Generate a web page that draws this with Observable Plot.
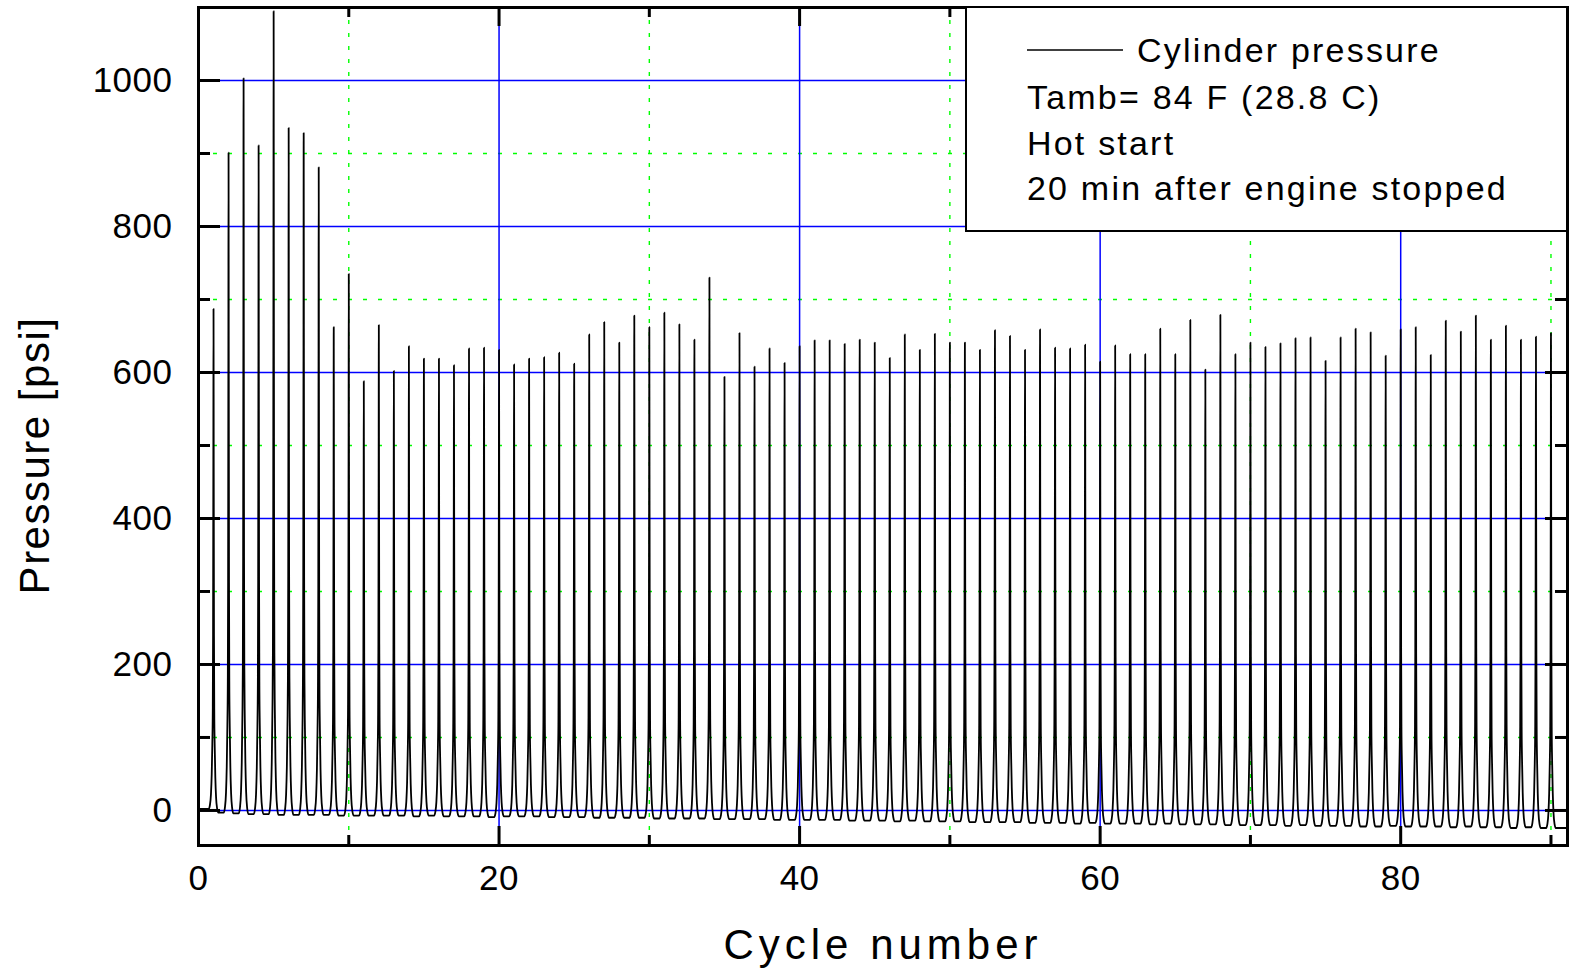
<!DOCTYPE html>
<html>
<head>
<meta charset="utf-8">
<script src="https://cdn.jsdelivr.net/npm/d3@7"></script>
<script src="https://cdn.jsdelivr.net/npm/@observablehq/plot@0.6"></script>
<style>
  html, body { margin: 0; padding: 0; background: #fff; }
  #wrap { position: relative; width: 1571px; height: 971px; font-family: "Liberation Sans", Arial, sans-serif; }
  #wrap svg text { letter-spacing: 0.5px; }
  #wrap #legend { position: absolute; left: 0; top: 0; pointer-events: none; }
  #wrap #legend text { font-family: "Liberation Sans", Arial, sans-serif; font-size: 34px; letter-spacing: 2.2px; fill: #000; }
</style>
</head>
<body>
<div id="wrap"></div>
<script>
// ---- Data ----
// Peak cylinder pressure [psi] for cycles 1..90
const cycles = d3.range(1, 91);
const peakPressure = [
  687, 901, 1003, 911, 1095, 935, 928, 881, 662, 735,
  588, 665, 602, 636, 619, 619, 610, 633, 634, 631,
  611, 619, 621, 627, 612, 652, 669, 641, 678, 662,
  682, 666, 645, 730, 594, 654, 608, 633, 613, 636,
  644, 644, 639, 645, 641, 620, 652, 631, 653, 641,
  641, 631, 658, 650, 631, 659, 634, 633, 638, 615,
  637, 625, 625, 660, 625, 672, 604, 679, 625, 641,
  635, 640, 647, 648, 616, 648, 660, 655, 623, 659,
  662, 624, 671, 656, 678, 645, 664, 645, 649, 654
];
// Baseline (minimum) pressure after each cycle [psi]
const baselinePressure = [
  -3, -4, -5, -5, -6, -6, -6, -6, -7, -7,
  -7, -7, -7, -8, -7, -8, -8, -8, -9, -8,
  -8, -8, -9, -9, -9, -10, -10, -10, -10, -11,
  -11, -11, -11, -12, -12, -12, -12, -13, -13, -13,
  -13, -13, -14, -14, -14, -15, -14, -15, -15, -15,
  -16, -16, -16, -16, -17, -17, -17, -18, -17, -18,
  -18, -18, -19, -18, -19, -19, -19, -20, -20, -20,
  -20, -21, -20, -21, -21, -21, -22, -22, -21, -22,
  -22, -22, -23, -22, -23, -23, -24, -23, -24, -24
];
const startLevel = 2;          // trace level before the first cycle
// Shape of one pressure pulse: offset from peak (cycles) and fraction of the rise
const pulseOffset = [-0.32, -0.24, -0.17, -0.12, -0.08, -0.05, -0.03, -0.012, 0, 0.012, 0.03, 0.05, 0.08, 0.12, 0.17, 0.24, 0.32];
const pulseFrac   = [0, 0.008, 0.03, 0.07, 0.13, 0.2, 0.35, 0.7, 1, 0.7, 0.35, 0.2, 0.13, 0.07, 0.03, 0.008, 0];

// Axis ticks
const xLabelTicks = [0, 20, 40, 60, 80];
const xMajor = [20, 40, 60, 80];
const xMinor = [10, 30, 50, 70, 90];
const yMajor = [0, 200, 400, 600, 800, 1000];
const yMinor = [100, 300, 500, 700, 900];
const xDomain = [0, 91.1];
const yDomain = [-48, 1100];
const xTitle = "Cycle number";
const yTitle = "Pressure [psi]";

// ---- Build trace ----
const trace = [{x: 0, y: startLevel}];
cycles.forEach((c, i) => {
  const left = i === 0 ? startLevel : baselinePressure[i - 1];
  const right = baselinePressure[i];
  pulseOffset.forEach((o, j) => {
    const base = o < 0 ? left : (o > 0 ? right : (left + right) / 2);
    trace.push({x: c + o, y: base + (peakPressure[i] - base) * pulseFrac[j]});
  });
});
trace.push({x: xDomain[1], y: baselinePressure[baselinePressure.length - 1]});

// ---- Layout ----
const W = 1571, H = 971;
const mL = 198, mR = 4, mT = 7, mB = 126;
const FW = W - mL - mR, FH = H - mT - mB;

const chart = Plot.plot({
  width: W, height: H,
  marginLeft: mL, marginRight: mR, marginTop: mT, marginBottom: mB,
  style: {background: "#fff", fontFamily: "'Liberation Sans', Arial, sans-serif", color: "#000", overflow: "visible"},
  x: {domain: xDomain},
  y: {domain: yDomain},
  marks: [
    Plot.ruleX(xMinor, {stroke: "#00ff00", strokeWidth: 1.4, strokeDasharray: "4,9"}),
    Plot.ruleY(yMinor, {stroke: "#00ff00", strokeWidth: 1.4, strokeDasharray: "4,11"}),
    Plot.ruleX(xMajor, {stroke: "#0000ff", strokeWidth: 1.5}),
    Plot.ruleY(yMajor, {stroke: "#0000ff", strokeWidth: 1.5}),
    Plot.line(trace, {x: "x", y: "y", stroke: "#000", strokeWidth: 1.8, curve: "monotone-x"}),
    // inward ticks on all four sides
    Plot.tickY(yMajor, {y: d => d, stroke: "#000", strokeWidth: 3, insetRight: FW - 22}),
    Plot.tickY(yMinor, {y: d => d, stroke: "#000", strokeWidth: 3, insetRight: FW - 12}),
    Plot.tickY(yMajor, {y: d => d, stroke: "#000", strokeWidth: 3, insetLeft: FW - 22}),
    Plot.tickY(yMinor, {y: d => d, stroke: "#000", strokeWidth: 3, insetLeft: FW - 12}),
    Plot.tickX(xMajor, {x: d => d, stroke: "#000", strokeWidth: 3, insetTop: FH - 19}),
    Plot.tickX(xMinor, {x: d => d, stroke: "#000", strokeWidth: 3, insetTop: FH - 10}),
    Plot.tickX(xMajor, {x: d => d, stroke: "#000", strokeWidth: 3, insetBottom: FH - 19}),
    Plot.tickX(xMinor, {x: d => d, stroke: "#000", strokeWidth: 3, insetBottom: FH - 10}),
    Plot.frame({stroke: "#000", strokeWidth: 3}),
    Plot.axisX(xLabelTicks, {tickSize: 0, tickPadding: 20, fontSize: 35, label: null, tickFormat: d => String(d)}),
    Plot.axisY(yMajor, {tickSize: 0, tickPadding: 26, fontSize: 35, label: null, tickFormat: d => String(d)}),
    Plot.text([xTitle], {frameAnchor: "bottom", dy: 99.6, dx: 0, fontSize: 42, lineAnchor: "middle", textAnchor: "middle"}),
    Plot.text([yTitle], {frameAnchor: "left", dx: -163.4, dy: 29, rotate: -90, fontSize: 42, lineAnchor: "middle", textAnchor: "middle"})
  ]
});
const wrap = document.getElementById("wrap");
wrap.appendChild(chart);

// letter-spacing of the axis titles
chart.querySelectorAll("text").forEach(t => {
  if (t.textContent === xTitle) t.style.letterSpacing = "5px";
  if (t.textContent === yTitle) t.style.letterSpacing = "1.5px";
});

// ---- Legend overlay ----
const legendLines = ["Tamb= 84 F (28.8 C)", "Hot start", "20 min after engine stopped"];
const lg = d3.select(wrap).append("svg").attr("id", "legend").attr("width", W).attr("height", H);
lg.append("rect").attr("x", 966).attr("y", 7).attr("width", 601).attr("height", 224)
  .attr("fill", "#fff").attr("stroke", "#000").attr("stroke-width", 2);
lg.append("line").attr("x1", 1027).attr("x2", 1123).attr("y1", 50).attr("y2", 50)
  .attr("stroke", "#000").attr("stroke-width", 1.5);
lg.append("text").attr("x", 1137).attr("y", 62).text("Cylinder pressure");
legendLines.forEach((t, i) => {
  lg.append("text").attr("x", 1027).attr("y", 109 + i * 45.5).text(t);
});
</script>
</body>
</html>
